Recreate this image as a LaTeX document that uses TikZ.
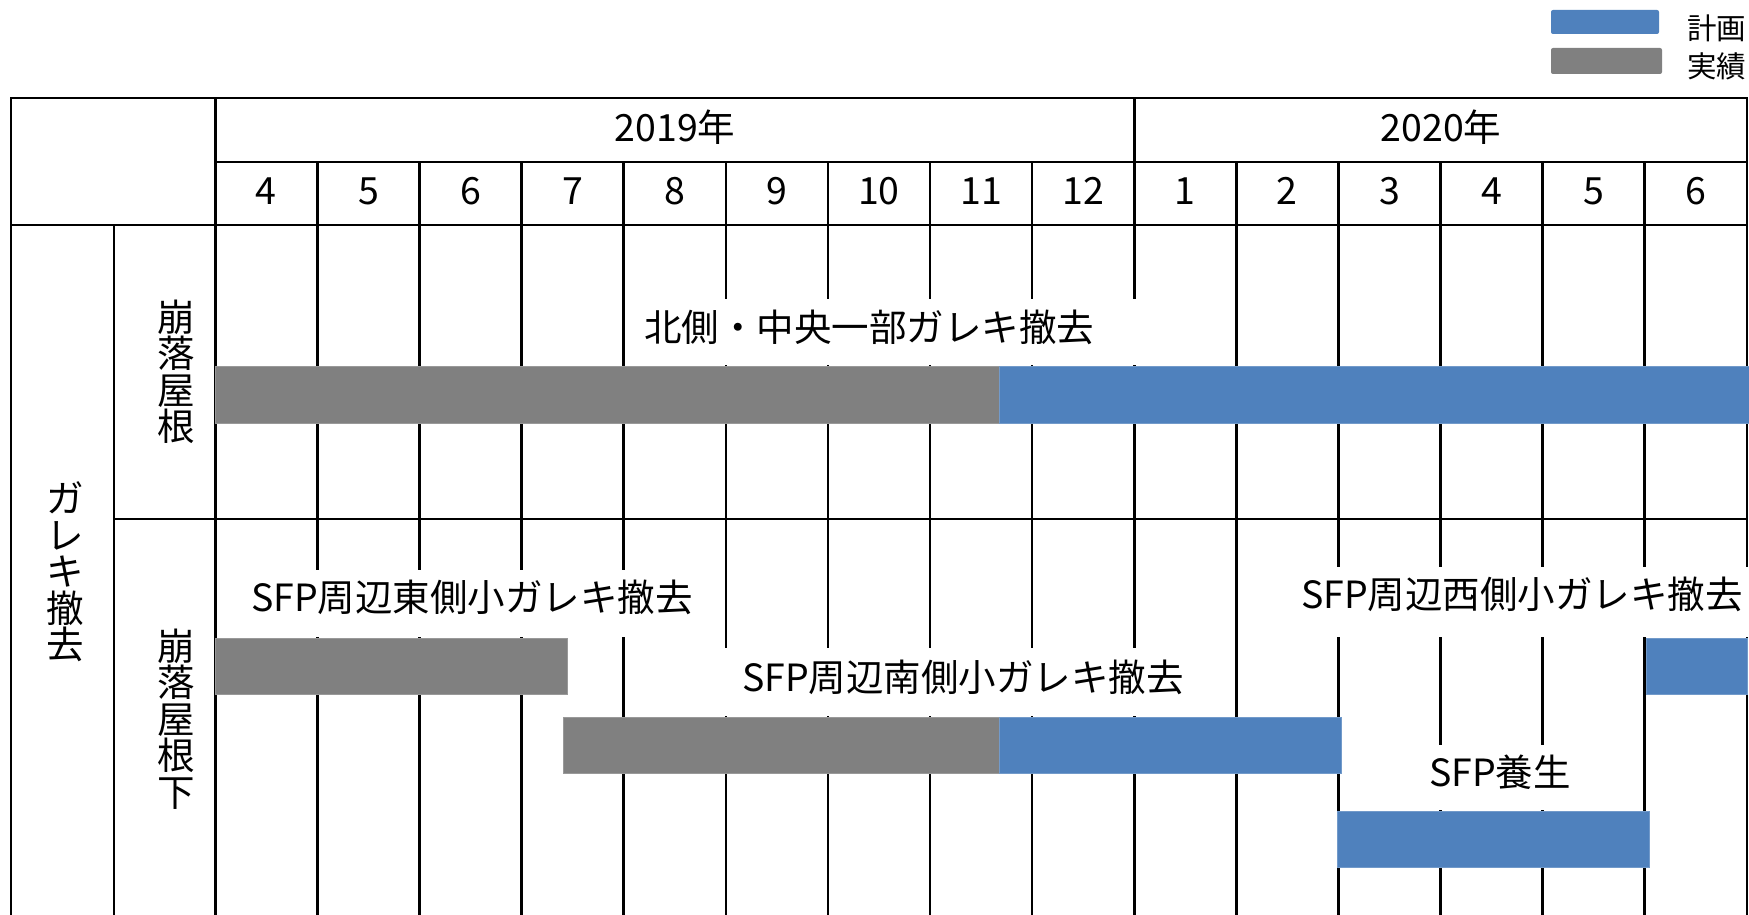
\documentclass[tikz,border=0pt]{standalone}
\usepackage{fontspec}
\setmainfont{Noto Sans CJK JP}
\definecolor{planblue}{HTML}{4F81BD}
\definecolor{actgray}{HTML}{808080}
\begin{document}
\begin{tikzpicture}[x=1pt,y=-1pt,
  gridline/.style={line width=2.6pt, black},
  planbar/.style={fill=planblue, draw=planblue!80!white, line width=0.8pt},
  actbar/.style={fill=actgray, draw=actgray!80!white, line width=0.8pt},
  mask/.style={fill=white, draw=none},
  lbl/.style={font=\fontsize{37.5}{40}\selectfont, inner sep=0pt, anchor=center},
  vtext/.style={font=\fontsize{37.5}{36.5}\selectfont, align=center, inner sep=0pt},
  legtext/.style={font=\fontsize{29.5}{32}\selectfont, anchor=west, inner sep=0pt}]

\useasboundingbox (0,0) rectangle (1749,915);
\fill[white] (0,0) rectangle (1749,915);

% ---- grid ----
\draw[gridline] (11,915) -- (11,98) -- (1747,98) -- (1747,915);
\draw[gridline] (215.3,98) -- (215.3,915);
\draw[gridline] (114,225) -- (114,915);
\draw[gridline] (11,225) -- (1747,225);
\draw[gridline] (215.3,162) -- (1747,162);
\draw[gridline] (114,519) -- (1747,519);
\foreach \i in {1,...,14} {
  \pgfmathsetmacro{\xx}{215.3+\i*102.1}
  \ifnum\i=9
    \draw[gridline] (\xx,98) -- (\xx,915);
  \else
    \draw[gridline] (\xx,162) -- (\xx,915);
  \fi
}

% ---- label masks ----
\fill[mask] (627,299) rectangle (1140,364.5);
\fill[mask] (230,570) rectangle (705,636.5);
\fill[mask] (700,648) rectangle (1200,715.5);
\fill[mask] (1290,567) rectangle (1749,636.5);
\fill[mask] (1400,745) rectangle (1600,809.5);

% ---- bars ----
\draw[actbar] (215.3,366) rectangle (999,423);
\draw[planbar] (999,366) rectangle (1749,423);
\draw[actbar] (215.3,638) rectangle (567,694);
\draw[actbar] (563,717) rectangle (999,773);
\draw[planbar] (999,717) rectangle (1341,773);
\draw[planbar] (1646,638) rectangle (1747,694);
\draw[planbar] (1337,811) rectangle (1649,867);

% ---- header texts ----
\node[lbl] (y2019) at (675,127) {2019年};
\node[lbl] (y2020) at (1441,127) {2020年};
\foreach \m [count=\i] in {4,5,6,7,8,9,10,11,12,1,2,3,4,5,6} {
  \node[lbl] (m\i) at ({215.3+(\i-0.5)*102.1},191) {\m};
}

% ---- row headers ----
\node[vtext] (cat) at (65,572) {ガ\\レ\\キ\\撤\\去};
\node[vtext] (roof) at (176,372) {崩\\落\\屋\\根};
\node[vtext] (under) at (176,719) {崩\\落\\屋\\根\\下};

% ---- bar labels ----
\node[lbl] (north) at (869,327) {北側・中央一部ガレキ撤去};
\node[lbl] (east) at (472,597) {SFP周辺東側小ガレキ撤去};
\node[lbl] (south) at (963,677) {SFP周辺南側小ガレキ撤去};
\node[lbl] (west) at (1522,594) {SFP周辺西側小ガレキ撤去};
\node[lbl] (cover) at (1500,772) {SFP養生};

% ---- legend ----
\fill[planblue, rounded corners=2pt] (1551,10) rectangle (1659,34);
\fill[actgray, rounded corners=2pt] (1551,48) rectangle (1662,74);
\node[legtext] (legplan) at (1687,28.5) {計画};
\node[legtext] (legact) at (1687,66) {実績};
\end{tikzpicture}
\end{document}
